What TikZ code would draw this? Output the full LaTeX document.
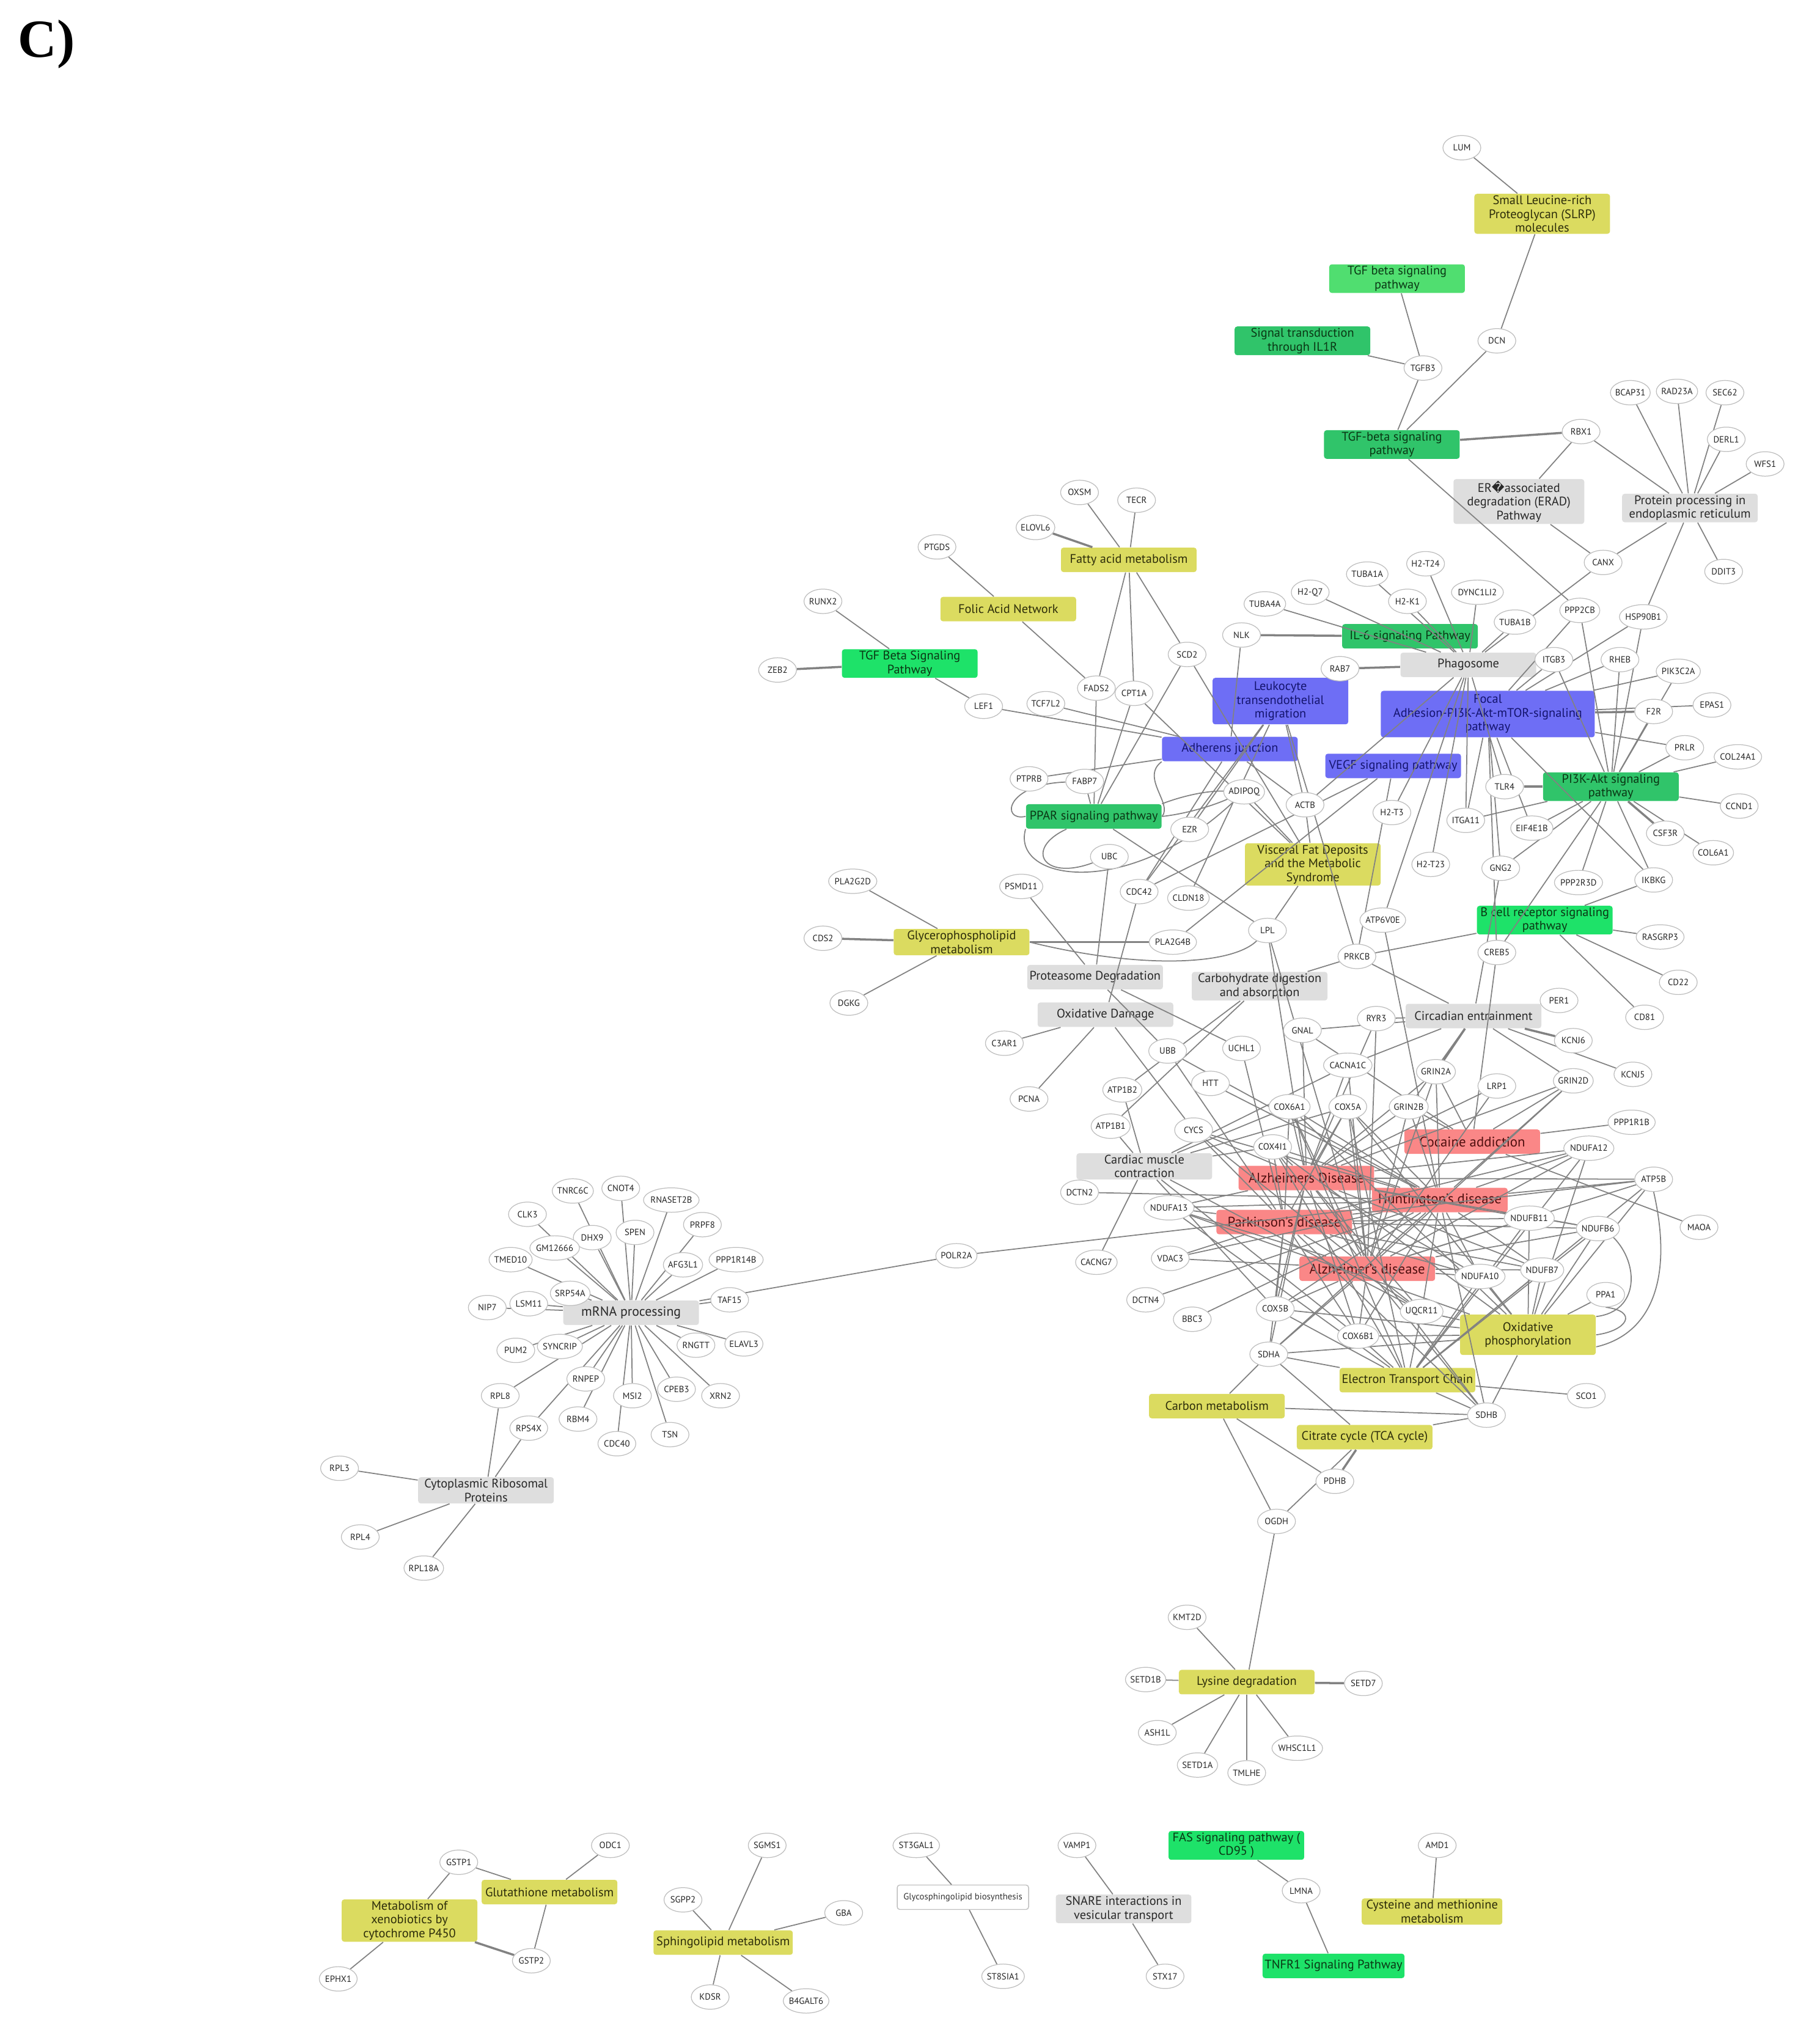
\documentclass[tikz,border=0pt]{standalone}
\usepackage{fontspec}
\setmainfont{PT Sans}
\newfontfamily\djv{DejaVu Sans}
\newfontfamily\lserif{Liberation Serif}
\usetikzlibrary{shapes.geometric}
\pgfdeclarelayer{bg}
\pgfdeclarelayer{mid}
\pgfsetlayers{bg,mid,main}
\definecolor{cYel}{RGB}{219,219,96}
\definecolor{tYel}{RGB}{45,45,10}
\definecolor{cGrB}{RGB}{30,226,105}
\definecolor{cGrM}{RGB}{48,196,106}
\definecolor{cGrL}{RGB}{80,222,112}
\definecolor{tGr}{RGB}{10,55,20}
\definecolor{cBlu}{RGB}{110,110,245}
\definecolor{tBlu}{RGB}{20,20,110}
\definecolor{cRed}{RGB}{250,135,135}
\definecolor{tRed}{RGB}{80,15,15}
\definecolor{cGry}{RGB}{222,222,222}
\definecolor{tGry}{RGB}{40,40,40}
\definecolor{cEdge}{RGB}{130,130,130}
\definecolor{cBord}{RGB}{190,190,190}
\begin{document}
\begin{tikzpicture}[x=0.021205cm,y=-0.021205cm,
  pw/.style={rectangle, rounded corners=1.2pt, minimum width=2.22cm, minimum height=0.40cm,
     inner xsep=1pt, inner ysep=0.8pt, align=center, font=\fontsize{5.8}{6.4}\selectfont},
  yb/.style={pw, fill=cYel, text=tYel},
  gb/.style={pw, fill=cGrB, text=tGr},
  gm/.style={pw, fill=cGrM, text=tGr},
  gl/.style={pw, fill=cGrL, text=tGr},
  bb/.style={pw, fill=cBlu, text=tBlu},
  rb/.style={pw, fill=cRed, text=tRed, font=\fontsize{6.5}{7}\selectfont},
  gy/.style={pw, fill=cGry, text=tGry},
  gene/.style={ellipse, draw=cBord, fill=white, line width=0.35pt, minimum width=0.62cm,
     minimum height=0.40cm, inner xsep=-0.5pt, inner ysep=0pt,
     font=\fontsize{4.2}{4.2}\selectfont, text=black!85},
  lnk/.style={draw=cEdge, line width=0.5pt},
  dbl/.style={draw=cEdge, line width=1pt}]
\useasboundingbox (0,0) rectangle (1403.9,1568);
\node[font=\lserif\bfseries\fontsize{25}{25}\selectfont, anchor=center] (lbl) at (36,34) {C)};

\begin{pgfonlayer}{bg}
\node[yb] (slrp) at (1190,165) {Small Leucine-rich\\Proteoglycan (SLRP)\\molecules};
\node[gl] (tgfA) at (1078,215) {TGF beta signaling\\pathway};
\node[gm] (il1r) at (1005,263) {Signal transduction\\through IL1R};
\node[gm] (tgfB) at (1074,343) {TGF-beta signaling\\pathway};
\node[gy, minimum width=2.14cm] (erad) at (1172,387) {ER{\djv\char"FFFD}associated\\degradation (ERAD)\\Pathway};
\node[gy] (per) at (1304,392) {Protein processing in\\endoplasmic reticulum};
\node[yb] (fatty) at (871,432) {Fatty acid metabolism};
\node[yb] (folic) at (778,470) {Folic Acid Network};
\node[gb] (tgfC) at (702,512) {TGF Beta Signaling\\Pathway};
\node[gm] (il6) at (1088,491) {IL-6 signaling Pathway};
\node[gy] (phago) at (1133,513) {Phagosome};
\node[bb, minimum height=0.76cm] (leuk) at (988,541) {Leukocyte\\transendothelial\\migration};
\node[bb, minimum width=3.50cm, minimum height=0.76cm] (focal) at (1148,551) {Focal\\Adhesion-PI3K-Akt-mTOR-signaling\\pathway};
\node[bb] (adher) at (949,578) {Adherens junction};
\node[bb] (vegf) at (1075,591) {VEGF signaling pathway};
\node[gm] (pi3k) at (1243,607) {PI3K-Akt signaling\\pathway};
\node[gm] (ppar) at (844,630) {PPAR signaling pathway};
\node[yb, minimum height=0.68cm] (visc) at (1013,667) {Visceral Fat Deposits\\and the Metabolic\\Syndrome};
\node[gb] (bcell) at (1192,710) {B cell receptor signaling\\pathway};
\node[yb] (glyc) at (742,727) {Glycerophospholipid\\metabolism};
\node[gy] (prot) at (845,754) {Proteasome Degradation};
\node[gy] (carb) at (972,761) {Carbohydrate digestion\\and absorption};
\node[gy] (oxd) at (853,783) {Oxidative Damage};
\node[gy] (circ) at (1137,784) {Circadian entrainment};
\node[rb] (coca) at (1136,881) {Cocaine addiction};
\node[gy] (card) at (883,900) {Cardiac muscle\\contraction};
\node[rb] (ad1) at (1008,909) {Alzheimers Disease};
\node[rb] (hd) at (1111,926) {Huntington's disease};
\node[rb] (pd) at (991,943) {Parkinson's disease};
\node[rb] (ad2) at (1055,979) {Alzheimer's disease};
\node[yb, minimum height=0.66cm] (oxphos) at (1179,1030) {Oxidative\\phosphorylation};
\node[yb] (etc) at (1086,1065) {Electron Transport Chain};
\node[yb] (carbon) at (939,1085) {Carbon metabolism};
\node[yb] (tca) at (1053,1109) {Citrate cycle (TCA cycle)};
\node[yb] (lys) at (962,1298) {Lysine degradation};
\node[gy, font=\fontsize{6.2}{6.6}\selectfont] (mrna) at (487,1013) {mRNA processing};
\node[gy] (ribo) at (375,1150) {Cytoplasmic Ribosomal\\Proteins};
\node[yb] (glut) at (424,1460) {Glutathione metabolism};
\node[yb, minimum height=0.66cm] (xeno) at (316,1482) {Metabolism of\\xenobiotics by\\cytochrome P450};
\node[yb, minimum width=2.28cm] (sphing) at (558,1499) {Sphingolipid metabolism};
\node[pw, fill=white, draw=black!25, line width=0.4pt, minimum width=2.15cm, text=black!80, font=\fontsize{4.2}{4.6}\selectfont] (glyco) at (743,1464) {Glycosphingolipid biosynthesis};
\node[gy] (snare) at (867,1473) {SNARE interactions in\\vesicular transport};
\node[gb] (fas) at (954,1424) {FAS signaling pathway (\\CD95 )};
\node[gb] (tnfr) at (1029,1517) {TNFR1 Signaling Pathway};
\node[yb, minimum width=2.3cm] (cys) at (1105,1475) {Cysteine and methionine\\metabolism};
\end{pgfonlayer}

% genes
\node[gene] (lum) at (1128,114) {LUM};
\node[gene] (dcn) at (1155,263) {DCN};
\node[gene] (tgfb3) at (1098,284) {TGFB3};
\node[gene] (rbx1) at (1220,333) {RBX1};
\node[gene] (bcap31) at (1258,303) {BCAP31};
\node[gene] (rad23a) at (1294,302) {RAD23A};
\node[gene] (sec62) at (1331,303) {SEC62};
\node[gene] (derl1) at (1332,339) {DERL1};
\node[gene] (wfs1) at (1362,358) {WFS1};
\node[gene] (canx) at (1237,434) {CANX};
\node[gene] (ddit3) at (1330,441) {DDIT3};
\node[gene] (hsp90b1) at (1268,476) {HSP90B1};
\node[gene] (ppp2cb) at (1219,471) {PPP2CB};
\node[gene] (tuba1b) at (1169,480) {TUBA1B};
\node[gene] (dync1li2) at (1140,457) {DYNC1LI2};
\node[gene] (h2t24) at (1100,435) {H2-T24};
\node[gene] (tuba1a) at (1055,443) {TUBA1A};
\node[gene] (h2q7) at (1011,457) {H2-Q7};
\node[gene] (h2k1) at (1086,464) {H2-K1};
\node[gene] (tuba4a) at (976,466) {TUBA4A};
\node[gene] (nlk) at (958,490) {NLK};
\node[gene] (rab7) at (1034,516) {RAB7};
\node[gene] (itgb3) at (1199,509) {ITGB3};
\node[gene] (rheb) at (1250,509) {RHEB};
\node[gene] (pik3c2a) at (1295,518) {PIK3C2A};
\node[gene] (epas1) at (1321,544) {EPAS1};
\node[gene] (f2r) at (1276,549) {F2R};
\node[gene] (prlr) at (1300,577) {PRLR};
\node[gene] (col24a1) at (1341,584) {COL24A1};
\node[gene] (ccnd1) at (1342,622) {CCND1};
\node[gene] (tlr4) at (1161,607) {TLR4};
\node[gene] (itga11) at (1131,633) {ITGA11};
\node[gene] (eif4e1b) at (1182,639) {EIF4E1B};
\node[gene] (csf3r) at (1285,643) {CSF3R};
\node[gene] (col6a1) at (1322,658) {COL6A1};
\node[gene] (h2t3) at (1074,627) {H2-T3};
\node[gene] (actb) at (1007,621) {ACTB};
\node[gene] (adipoq) at (960,611) {ADIPOQ};
\node[gene] (ezr) at (918,640) {EZR};
\node[gene] (fabp7) at (837,603) {FABP7};
\node[gene] (ptprb) at (794,601) {PTPRB};
\node[gene] (h2t23) at (1104,667) {H2-T23};
\node[gene] (gng2) at (1158,670) {GNG2};
\node[gene] (ppp2r3d) at (1218,681) {PPP2R3D};
\node[gene] (ikbkg) at (1276,679) {IKBKG};
\node[gene] (ubc) at (856,661) {UBC};
\node[gene] (cdc42) at (879,688) {CDC42};
\node[gene] (cldn18) at (917,693) {CLDN18};
\node[gene] (psmd11) at (788,684) {PSMD11};
\node[gene] (atp6v0e) at (1067,710) {ATP6V0E};
\node[gene] (lpl) at (978,718) {LPL};
\node[gene] (pla2g4b) at (905,727) {PLA2G4B};
\node[gene] (rasgrp3) at (1281,723) {RASGRP3};
\node[gene] (creb5) at (1155,735) {CREB5};
\node[gene] (prkcb) at (1047,738) {PRKCB};
\node[gene] (cd22) at (1295,758) {CD22};
\node[gene] (per1) at (1203,772) {PER1};
\node[gene] (cd81) at (1269,785) {CD81};
\node[gene] (pla2g2d) at (658,680) {PLA2G2D};
\node[gene] (cds2) at (635,724) {CDS2};
\node[gene] (dgkg) at (655,774) {DGKG};
\node[gene] (ryr3) at (1062,786) {RYR3};
\node[gene] (gnal) at (1005,795) {GNAL};
\node[gene] (ubb) at (901,811) {UBB};
\node[gene] (uchl1) at (958,809) {UCHL1};
\node[gene] (c3ar1) at (775,805) {C3AR1};
\node[gene] (kcnj6) at (1214,803) {KCNJ6};
\node[gene] (kcnj5) at (1260,829) {KCNJ5};
\node[gene] (cacna1c) at (1040,822) {CACNA1C};
\node[gene] (grin2a) at (1108,827) {GRIN2A};
\node[gene] (htt) at (934,836) {HTT};
\node[gene] (lrp1) at (1155,838) {LRP1};
\node[gene] (grin2d) at (1214,834) {GRIN2D};
\node[gene] (atp1b2) at (866,841) {ATP1B2};
\node[gene] (pcna) at (794,848) {PCNA};
\node[gene] (cox6a1) at (995,854) {COX6A1};
\node[gene] (cox5a) at (1040,854) {COX5A};
\node[gene] (grin2b) at (1087,854) {GRIN2B};
\node[gene] (ppp1r1b) at (1259,866) {PPP1R1B};
\node[gene] (atp1b1) at (857,869) {ATP1B1};
\node[gene] (cycs) at (921,872) {CYCS};
\node[gene] (cox4i1) at (982,885) {COX4I1};
\node[gene] (ndufa12) at (1226,886) {NDUFA12};
\node[gene] (atp5b) at (1276,910) {ATP5B};
\node[gene] (dctn2) at (833,920) {DCTN2};
\node[gene] (ndufa13) at (902,932) {NDUFA13};
\node[gene] (ndufb11) at (1180,940) {NDUFB11};
\node[gene] (ndufb6) at (1233,948) {NDUFB6};
\node[gene] (maoa) at (1311,947) {MAOA};
\node[gene] (cacng7) at (846,974) {CACNG7};
\node[gene] (vdac3) at (903,971) {VDAC3};
\node[gene] (ndufa10) at (1142,985) {NDUFA10};
\node[gene] (ndufb7) at (1190,980) {NDUFB7};
\node[gene] (ppa1) at (1239,999) {PPA1};
\node[gene] (dctn4) at (884,1003) {DCTN4};
\node[gene] (cox5b) at (984,1010) {COX5B};
\node[gene] (bbc3) at (920,1018) {BBC3};
\node[gene] (uqcr11) at (1097,1012) {UQCR11};
\node[gene] (cox6b1) at (1048,1031) {COX6B1};
\node[gene] (sdha) at (979,1045) {SDHA};
\node[gene] (sco1) at (1224,1077) {SCO1};
\node[gene] (sdhb) at (1147,1092) {SDHB};
\node[gene] (pdhb) at (1030,1143) {PDHB};
\node[gene] (ogdh) at (985,1174) {OGDH};
\node[gene] (kmt2d) at (916,1248) {KMT2D};
\node[gene] (setd1b) at (884,1296) {SETD1B};
\node[gene] (setd7) at (1052,1299) {SETD7};
\node[gene] (ash1l) at (893,1337) {ASH1L};
\node[gene] (whsc1l1) at (1001,1349) {WHSC1L1};
\node[gene] (setd1a) at (924,1362) {SETD1A};
\node[gene] (tmlhe) at (962,1368) {TMLHE};
\node[gene] (oxsm) at (833,380) {OXSM};
\node[gene] (tecr) at (877,386) {TECR};
\node[gene] (elovl6) at (799,407) {ELOVL6};
\node[gene] (ptgds) at (723,422) {PTGDS};
\node[gene] (runx2) at (635,464) {RUNX2};
\node[gene] (zeb2) at (600,517) {ZEB2};
\node[gene] (lef1) at (759,545) {LEF1};
\node[gene] (tcf7l2) at (807,543) {TCF7L2};
\node[gene] (fads2) at (846,531) {FADS2};
\node[gene] (cpt1a) at (875,535) {CPT1A};
\node[gene] (scd2) at (916,505) {SCD2};
% mRNA cluster
\node[gene] (tnrc6c) at (442,919) {TNRC6C};
\node[gene] (cnot4) at (479,917) {CNOT4};
\node[gene] (rnaset2b) at (518,926) {RNASET2B};
\node[gene] (clk3) at (407,937) {CLK3};
\node[gene] (prpf8) at (542,945) {PRPF8};
\node[gene] (spen) at (490,951) {SPEN};
\node[gene] (dhx9) at (457,955) {DHX9};
\node[gene] (gm12666) at (428,963) {GM12666};
\node[gene] (tmed10) at (394,972) {TMED10};
\node[gene] (afg3l1) at (527,976) {AFG3L1};
\node[gene] (ppp1r14b) at (568,972) {PPP1R14B};
\node[gene] (srp54a) at (440,998) {SRP54A};
\node[gene] (nip7) at (376,1009) {NIP7};
\node[gene] (lsm11) at (408,1006) {LSM11};
\node[gene] (taf15) at (563,1003) {TAF15};
\node[gene] (polr2a) at (738,969) {POLR2A};
\node[gene] (pum2) at (398,1042) {PUM2};
\node[gene] (syncrip) at (432,1039) {SYNCRIP};
\node[gene] (rngtt) at (537,1038) {RNGTT};
\node[gene] (elavl3) at (574,1037) {ELAVL3};
\node[gene] (rnpep) at (452,1064) {RNPEP};
\node[gene] (rpl8) at (386,1077) {RPL8};
\node[gene] (msi2) at (488,1077) {MSI2};
\node[gene] (cpeb3) at (522,1072) {CPEB3};
\node[gene] (xrn2) at (556,1077) {XRN2};
\node[gene] (rbm4) at (446,1095) {RBM4};
\node[gene] (rps4x) at (408,1102) {RPS4X};
\node[gene] (cdc40) at (476,1114) {CDC40};
\node[gene] (tsn) at (517,1107) {TSN};
\node[gene] (rpl3) at (262,1133) {RPL3};
\node[gene] (rpl4) at (278,1186) {RPL4};
\node[gene] (rpl18a) at (327,1210) {RPL18A};
% bottom
\node[gene] (gstp1) at (354,1437) {GSTP1};
\node[gene] (odc1) at (471,1424) {ODC1};
\node[gene] (gstp2) at (410,1513) {GSTP2};
\node[gene] (ephx1) at (261,1527) {EPHX1};
\node[gene] (sgms1) at (592,1424) {SGMS1};
\node[gene] (sgpp2) at (527,1466) {SGPP2};
\node[gene] (gba) at (651,1476) {GBA};
\node[gene] (kdsr) at (548,1541) {KDSR};
\node[gene] (b4galt6) at (622,1544) {B4GALT6};
\node[gene] (st3gal1) at (707,1424) {ST3GAL1};
\node[gene] (st8sia1) at (774,1525) {ST8SIA1};
\node[gene] (vamp1) at (831,1424) {VAMP1};
\node[gene] (stx17) at (899,1525) {STX17};
\node[gene] (lmna) at (1004,1459) {LMNA};
\node[gene] (amd1) at (1109,1424) {AMD1};

\begin{pgfonlayer}{mid}
% top cluster
\draw[lnk] (lum)--(slrp);
\draw[lnk] (slrp)--(dcn);
\draw[lnk] (dcn)--(tgfB);
\draw[lnk] (tgfA)--(tgfb3);
\draw[lnk] (il1r)--(tgfb3);
\draw[lnk] (tgfb3)--(tgfB);
\draw[dbl] (tgfB)--(rbx1);
\draw[lnk] (tgfB)--(ppp2cb);
\draw[lnk] (rbx1)--(erad);
\draw[lnk] (rbx1)--(per);
\foreach \g in {bcap31,rad23a,sec62,derl1,wfs1,canx,ddit3,hsp90b1} \draw[lnk] (per)--(\g);
\draw[lnk] (erad)--(canx);
\draw[lnk] (canx)--(phago);
% phagosome / IL-6
\foreach \g in {tuba4a,h2q7,tuba1a,h2k1,h2t24,dync1li2,tuba1b,itgb3,actb,h2t3,h2t23,atp6v0e,tlr4,itga11} \draw[lnk] (phago)--(\g);
\draw[dbl] (phago)--(rab7);
\draw[dbl] (il6)--(nlk);
% focal adhesion
\foreach \g in {itgb3,rheb,pik3c2a,epas1,prlr,itga11,gng2,creb5,eif4e1b,ikbkg,hsp90b1,ppp2cb} \draw[lnk] (focal)--(\g);
\draw[dbl] (focal)--(f2r);
% PI3K-Akt
\foreach \g in {hsp90b1,ppp2cb,rheb,itgb3,pik3c2a,f2r,prlr,col24a1,ccnd1,col6a1,ikbkg,ppp2r3d,gng2,eif4e1b,itga11,creb5} \draw[lnk] (pi3k)--(\g);
\draw[dbl] (pi3k)--(csf3r);
\draw[dbl] (pi3k)--(tlr4);
% leukocyte, adherens, VEGF
\foreach \g in {ezr,cldn18,actb,cdc42,prkcb} \draw[lnk] (leuk)--(\g);
\foreach \g in {lef1,tcf7l2,ptprb,nlk,actb,cdc42} \draw[lnk] (adher)--(\g);
\foreach \g in {cdc42,pla2g4b,prkcb} \draw[lnk] (vegf)--(\g);
% fatty acid, folic, TGF beta
\foreach \g in {oxsm,tecr,fads2,cpt1a,scd2} \draw[lnk] (fatty)--(\g);
\draw[dbl] (fatty)--(elovl6);
\draw[lnk] (folic)--(ptgds);
\draw[lnk] (folic)--(fads2);
\draw[lnk] (tgfC)--(runx2);
\draw[dbl] (tgfC)--(zeb2);
\draw[lnk] (tgfC)--(lef1);
% PPAR
\foreach \g in {fabp7,fads2,cpt1a,scd2,lpl} \draw[lnk] (ppar)--(\g);
\draw[lnk] (ppar.west) .. controls (772,634) and (776,605) .. (fabp7);
\draw[lnk] (ppar.south west) .. controls (780,680) and (870,695) .. (adipoq);
\draw[lnk] (ppar) .. controls (790,655) and (805,680) .. (ubc);
\draw[lnk] (ppar.east) .. controls (915,628) and (935,622) .. (adipoq);
\draw[lnk] (ppar.north east) .. controls (910,615) and (930,610) .. (adipoq);
\draw[lnk] (adher.south west) .. controls (880,600) and (905,620) .. (ppar.east);
% visceral
\foreach \g in {adipoq,lpl,actb,scd2,cpt1a} \draw[lnk] (visc)--(\g);
% glycerophospholipid
\draw[lnk] (glyc)--(pla2g2d);
\draw[dbl] (glyc)--(cds2);
\draw[lnk] (glyc)--(dgkg);
\draw[dbl] (glyc)--(pla2g4b);
\draw[lnk] (glyc.east) .. controls (880,748) and (950,745) .. (lpl);
% proteasome, oxidative damage, carbohydrate
\foreach \g in {psmd11,ubc,ubb,uchl1} \draw[lnk] (prot)--(\g);
\foreach \g in {c3ar1,pcna,cdc42,cycs} \draw[lnk] (oxd)--(\g);
\foreach \g in {prkcb,atp1b1,atp1b2} \draw[lnk] (carb)--(\g);
% circadian
\foreach \g in {ryr3,prkcb,per1,kcnj5,grin2d,cacna1c,gng2,gnal,grin2b} \draw[lnk] (circ)--(\g);
\draw[dbl] (circ)--(kcnj6);
\draw[dbl] (circ)--(grin2a);
% B cell
\foreach \g in {prkcb,rasgrp3,cd22,cd81,ikbkg} \draw[lnk] (bcell)--(\g);
\draw[lnk] (creb5)--(coca);
\draw[lnk] (atp6v0e)--(hd);
% disease hub
\foreach \g in {cox6a1,cox5a,cox4i1,cox5b,cox6b1,ndufa12,ndufa13,ndufb11,ndufb6,ndufa10,ndufb7,uqcr11,atp5b,sdha,sdhb}
  \foreach \p in {ad1,hd,pd,ad2,oxphos,etc} \draw[lnk] (\g)--(\p);
\foreach \g in {cox6a1,cox5a,cox4i1,cox5b,cox6b1,uqcr11,atp1b1,atp1b2,cacna1c,cacng7} \draw[lnk] (card)--(\g);
\foreach \p in {ad1,hd,pd,ad2} \draw[lnk] (cycs)--(\p);
\foreach \p in {hd,pd,ad2} \draw[lnk] (vdac3)--(\p);
\foreach \g in {htt,dctn2,dctn4,bbc3,polr2a,ubb} \draw[lnk] (hd)--(\g);
\foreach \g in {grin2a,grin2b,grin2d}
  \foreach \p in {coca,hd,ad1,ad2} \draw[lnk] (\g)--(\p);
\foreach \p in {ad1,ad2} {
  \draw[lnk] (lrp1)--(\p);
  \draw[lnk] (cacna1c)--(\p);
  \draw[lnk] (ryr3)--(\p);
  \draw[lnk] (lpl)--(\p);
}
\draw[lnk] (gnal)--(coca);
\draw[lnk] (gnal)--(ad1);
\draw[lnk] (ppp1r1b)--(coca);
\draw[lnk] (maoa)--(coca);
\draw[lnk] (pd)--(ubb);
\draw[lnk] (pd)--(uchl1);
\draw[lnk] (ppa1)--(oxphos);
\draw[lnk] (ppa1.south) .. controls (1265,1012) and (1255,1027) .. (oxphos.east);
\draw[lnk] (atp5b.south) .. controls (1292,990) and (1272,1030) .. (oxphos.-10);
\draw[lnk] (ndufb6.south east) .. controls (1265,975) and (1265,1012) .. (oxphos.15);
\draw[lnk] (sco1)--(etc);
\foreach \g in {sdha,sdhb,pdhb,ogdh} \draw[lnk] (carbon)--(\g);
\foreach \g in {sdha,sdhb,ogdh} \draw[lnk] (tca)--(\g);
\draw[dbl] (tca)--(pdhb);
\draw[lnk] (ogdh)--(lys);
\foreach \g in {kmt2d,setd1b,ash1l,setd1a,tmlhe,whsc1l1} \draw[lnk] (lys)--(\g);
\draw[dbl] (lys)--(setd7);
% mRNA
\foreach \g in {tnrc6c,cnot4,rnaset2b,clk3,prpf8,dhx9,spen,gm12666,tmed10,afg3l1,ppp1r14b,srp54a,nip7,lsm11,taf15,pum2,syncrip,rngtt,elavl3,rnpep,msi2,cpeb3,xrn2,rbm4,rps4x,cdc40,tsn,polr2a,rpl8} \draw[lnk] (mrna)--(\g);
\foreach \g in {rpl3,rpl4,rpl18a,rpl8,rps4x} \draw[lnk] (ribo)--(\g);
% bottom row
\draw[lnk] (gstp1)--(glut);
\draw[lnk] (gstp1)--(xeno);
\draw[lnk] (odc1)--(glut);
\draw[lnk] (glut)--(gstp2);
\draw[dbl] (xeno)--(gstp2);
\draw[lnk] (xeno)--(ephx1);
\foreach \g in {sgms1,sgpp2,gba,kdsr,b4galt6} \draw[lnk] (sphing)--(\g);
\draw[lnk] (st3gal1)--(glyco);
\draw[lnk] (glyco)--(st8sia1);
\draw[lnk] (vamp1)--(snare);
\draw[lnk] (snare)--(stx17);
\draw[lnk] (fas)--(lmna);
\draw[lnk] (lmna)--(tnfr);
\draw[lnk] (amd1)--(cys);
\end{pgfonlayer}
\end{tikzpicture}
\end{document}
